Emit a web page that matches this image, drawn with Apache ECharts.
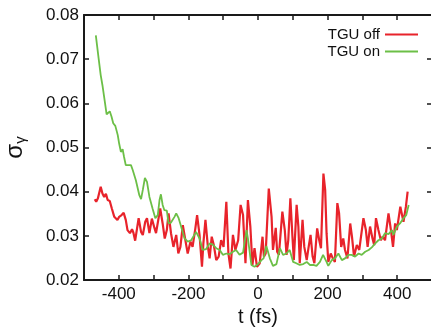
<!DOCTYPE html>
<html>
<head>
<meta charset="utf-8">
<script src="https://cdn.jsdelivr.net/npm/echarts@6/dist/echarts.min.js"></script>
<style>
html,body{margin:0;padding:0;background:#fff;}
#c{width:431px;height:328px;}
</style>
</head>
<body>
<div id="c"></div>
<script>
// TGU off (red)
var tOff = [-469,-465,-460,-452,-447,-442,-437,-432,-426,-420,-413,-408,-404,-399,-392,-386,-380,-375,-368,-362,-358,-353,-343,-336,-331,-324,-319,-312,-305,-298,-293,-288,-281,-274,-268,-262,-257,-250,-243,-235,-229,-223,-216,-208,-202,-194,-188,-180,-175,-168,-161,-157,-151,-144,-139,-133,-127,-120,-113,-106,-99,-91,-85,-79,-72,-65,-57,-50,-43,-36,-29,-22,-16,-10,-3,5,13,17,22,31,39,43,51,55,60,70,77,82,87,93,99,103,111,116,120,128,133,140,145,151,157,162,170,176,181,188,193,197,202,209,215,221,228,233,239,245,250,257,265,270,276,284,291,303,310,315,322,329,334,339,346,353,358,365,375,382,388,394,399,409,413,418,425,430];
var vOff = [0.0383,0.0377,0.0385,0.0411,0.0396,0.0388,0.0395,0.0381,0.0379,0.0362,0.0343,0.0347,0.0336,0.0343,0.0347,0.0352,0.0336,0.0313,0.0306,0.0315,0.0307,0.0289,0.0340,0.0309,0.0302,0.0332,0.0340,0.0306,0.0339,0.0319,0.0306,0.0302,0.0362,0.0328,0.0294,0.0313,0.0351,0.0306,0.0275,0.0302,0.0260,0.0275,0.0324,0.0287,0.0260,0.0287,0.0275,0.0317,0.0347,0.0302,0.0230,0.0283,0.0336,0.0275,0.0249,0.0298,0.0279,0.0245,0.0253,0.0290,0.0275,0.0377,0.0260,0.0226,0.0302,0.0268,0.0290,0.0370,0.0347,0.0238,0.0381,0.0321,0.0234,0.0272,0.0230,0.0238,0.0298,0.0253,0.0260,0.0407,0.0343,0.0268,0.0318,0.0264,0.0257,0.0355,0.0313,0.0257,0.0290,0.0385,0.0298,0.0245,0.0370,0.0321,0.0238,0.0336,0.0275,0.0245,0.0272,0.0302,0.0253,0.0238,0.0317,0.0290,0.0272,0.0441,0.0404,0.0306,0.0241,0.0260,0.0249,0.0241,0.0374,0.0351,0.0275,0.0294,0.0268,0.0249,0.0328,0.0298,0.0253,0.0279,0.0268,0.0340,0.0313,0.0275,0.0321,0.0294,0.0279,0.0340,0.0313,0.0290,0.0298,0.0290,0.0351,0.0313,0.0275,0.0328,0.0313,0.0366,0.0362,0.0332,0.0366,0.0400];
// TGU on (green)
var tOn = [-466,-464,-458,-452,-447,-444,-440,-435,-430,-426,-421,-416,-410,-407,-403,-399,-394,-389,-385,-380,-375,-365,-360,-351,-341,-336,-331,-325,-319,-312,-303,-295,-288,-283,-279,-274,-269,-262,-257,-250,-240,-235,-228,-221,-211,-202,-192,-178,-168,-159,-149,-139,-130,-120,-110,-101,-91,-82,-72,-63,-53,-43,-33,-29,-19,-10,0,10,16,24,34,43,53,63,72,82,91,101,110,120,130,140,149,159,168,178,187,197,202,212,221,231,241,250,260,269,279,289,298,308,318,327,337,346,356,365,375,385,389,399,408,418,426,433];
var vOn = [0.0754,0.0756,0.0702,0.0664,0.0641,0.0637,0.0603,0.0575,0.0579,0.0582,0.0570,0.0555,0.0549,0.0551,0.0528,0.0509,0.0490,0.0496,0.0479,0.0460,0.0456,0.0460,0.0449,0.0426,0.0392,0.0383,0.0404,0.0431,0.0422,0.0388,0.0362,0.0340,0.0347,0.0381,0.0394,0.0370,0.0358,0.0357,0.0328,0.0330,0.0343,0.0351,0.0340,0.0321,0.0294,0.0287,0.0290,0.0309,0.0294,0.0268,0.0270,0.0283,0.0280,0.0272,0.0268,0.0257,0.0260,0.0258,0.0264,0.0268,0.0257,0.0262,0.0313,0.0294,0.0234,0.0230,0.0236,0.0245,0.0249,0.0277,0.0249,0.0232,0.0236,0.0272,0.0257,0.0260,0.0268,0.0241,0.0238,0.0234,0.0236,0.0241,0.0234,0.0234,0.0232,0.0241,0.0257,0.0241,0.0232,0.0245,0.0249,0.0260,0.0245,0.0249,0.0257,0.0257,0.0253,0.0260,0.0257,0.0264,0.0268,0.0274,0.0283,0.0290,0.0294,0.0306,0.0304,0.0313,0.0302,0.0321,0.0328,0.0340,0.0347,0.0370];
var xTicks = [-400,-200,0,200,400];
var yTicks = ['0.02','0.03','0.04','0.05','0.06','0.07','0.08'];

function pairs(t, v){ return t.map(function(x,i){return [x, v[i]];}); }

var FONT = "'Liberation Sans', Arial, sans-serif";
var chart = echarts.init(document.getElementById('c'), null, {renderer:'canvas'});
var axisLineStyle = {color:'#1a1a1a', width:2};
chart.setOption({
  animation:false,
  backgroundColor:'#fff',
  grid:{left:84, top:15, right:-1, bottom:48, containLabel:false, outerBoundsMode:'none'},
  legend:{
    orient:'vertical', right:13, top:27, align:'right', padding:0,
    icon:'rect', itemWidth:33, itemHeight:2, itemGap:2,
    textStyle:{fontFamily:FONT, fontSize:15, color:'#111', padding:[0,0,0,0]},
    data:['TGU off','TGU on']
  },
  xAxis:[{
    type:'value', min:-500, max:500, interval:100,
    name:'t (fs)', nameLocation:'middle', nameGap:27,
    nameTextStyle:{fontFamily:FONT, fontSize:20, color:'#111'},
    axisLine:{show:true, onZero:false, lineStyle:axisLineStyle},
    axisTick:{show:true, inside:true, length:5, lineStyle:{color:'#1a1a1a', width:1.5}},
    axisLabel:{fontFamily:FONT, fontSize:17, color:'#111', margin:6,
      formatter:function(v){ return xTicks.indexOf(v) >= 0 ? String(v) : ''; }},
    splitLine:{show:false}
  },{
    type:'value', position:'top', min:-500, max:500, interval:100,
    axisLine:{show:true, onZero:false, lineStyle:axisLineStyle},
    axisTick:{show:true, inside:true, length:5, lineStyle:{color:'#1a1a1a', width:1.5}},
    axisLabel:{show:false}, splitLine:{show:false}
  }],
  yAxis:[{
    type:'value', min:0.02, max:0.08, interval:0.01,
    name:'{s|σ}{g|γ}', nameLocation:'middle', nameGap:56, nameRotate:90,
    nameTextStyle:{rich:{
      s:{fontFamily:FONT, fontSize:24, color:'#111', lineHeight:26},
      g:{fontFamily:FONT, fontSize:15, color:'#111', verticalAlign:'bottom', lineHeight:13}
    }},
    axisLine:{show:true, onZero:false, lineStyle:axisLineStyle},
    axisTick:{show:true, inside:true, length:5, lineStyle:{color:'#1a1a1a', width:1.5}},
    axisLabel:{fontFamily:FONT, fontSize:17, color:'#111', margin:5,
      formatter:function(v){ var s = v.toFixed(2); return yTicks.indexOf(s) >= 0 ? s : ''; }},
    splitLine:{show:false}
  },{
    type:'value', position:'right', min:0.02, max:0.08, interval:0.01,
    axisLine:{show:true, onZero:false, lineStyle:axisLineStyle},
    axisTick:{show:true, inside:true, length:5, lineStyle:{color:'#1a1a1a', width:1.5}},
    axisLabel:{show:false}, splitLine:{show:false}
  }],
  series:[{
    name:'TGU off', type:'line', data:pairs(tOff, vOff), showSymbol:false, symbol:'none',
    lineStyle:{color:'#e8232b', width:2.2}, itemStyle:{color:'#e8232b'}, z:2
  },{
    name:'TGU on', type:'line', data:pairs(tOn, vOn), showSymbol:false, symbol:'none',
    lineStyle:{color:'#6cbf47', width:1.8}, itemStyle:{color:'#6cbf47'}, z:3
  }]
});
</script>
</body>
</html>
